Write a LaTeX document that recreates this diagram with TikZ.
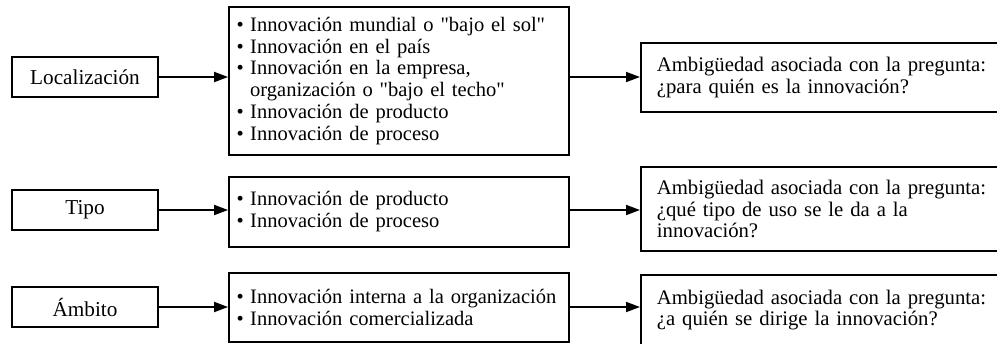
\documentclass[tikz,border=0pt]{standalone}
\usepackage{fontspec}
\setmainfont{Liberation Serif}[Ligatures=TeXOff]
\usetikzlibrary{arrows.meta}
\tikzset{
  box/.style={draw, line width=1.8bp, inner sep=0pt, align=center},
  lbox/.style={box, minimum width=146bp, minimum height=40bp},
  mbox/.style={draw, line width=1.8bp, minimum width=340bp, text width=338bp, inner xsep=1bp, inner ysep=0pt, align=left, font=\fontsize{20.6}{22}\selectfont},
  rbox/.style={draw, line width=1.8bp, anchor=west, minimum width=380bp, text width=348bp, inner xsep=15bp, inner ysep=0pt, align=left, font=\fontsize{20.8}{22}\selectfont},
  arr/.style={line width=1.8bp, -{Triangle[length=14bp,width=10bp]}}
}
\newcommand{\bul}{\hspace*{6.5bp}\textbullet\hspace{6.5bp}}
\newcommand{\hng}{\hspace*{6.5bp}\phantom{\textbullet}\hspace{6.5bp}}
\begin{document}
\begin{tikzpicture}[x=1bp, y=-1bp, font=\fontsize{21.3}{22.4}\selectfont]
\useasboundingbox (0,0) rectangle (997,343);
\clip (0,0) rectangle (997,343);
\fill[white] (0,0) rectangle (997,343);
% left boxes
\node[lbox] (loc) at (85,77) {Localización};
\node[lbox] (tipo) at (85,210) {Tipo};
\node[lbox] (amb) at (85,307) {Ámbito};
% middle boxes
\node[mbox, minimum height=148bp] (mid1) at (399,81) {\bul Innovación mundial o "bajo el sol"\\
\bul Innovación en el país\\
\bul Innovación en la empresa,\\
\hng organización o "bajo el techo"\\
\bul Innovación de producto\\
\bul Innovación de proceso};
\node[mbox, minimum height=70bp] (mid2) at (399,212) {\bul Innovación de producto\\
\bul Innovación de proceso};
\node[mbox, minimum height=69bp] (mid3) at (399,307.5) {\bul Innovación interna a la organización\\
\bul Innovación comercializada};
% right boxes
\node[rbox, minimum height=69bp] (r1) at (640,77.5) {Ambigüedad asociada con la pregunta:\\
¿para quién es la innovación?};
\node[rbox, minimum height=84bp] (r2) at (640,209) {Ambigüedad asociada con la pregunta:\\
¿qué tipo de uso se le da a la\\
innovación?};
\node[rbox, minimum height=70bp] (r3) at (640,310) {Ambigüedad asociada con la pregunta:\\
¿a quién se dirige la innovación?};
% connectors
\draw[arr] (loc.east) -- (loc.east -| mid1.west);
\draw[arr] (mid1.east |- loc.east) -- (loc.east -| r1.west);
\draw[arr] (tipo.east) -- (tipo.east -| mid2.west);
\draw[arr] (mid2.east |- tipo.east) -- (tipo.east -| r2.west);
\draw[arr] (amb.east) -- (amb.east -| mid3.west);
\draw[arr] (mid3.east |- amb.east) -- (amb.east -| r3.west);
\end{tikzpicture}
\end{document}
